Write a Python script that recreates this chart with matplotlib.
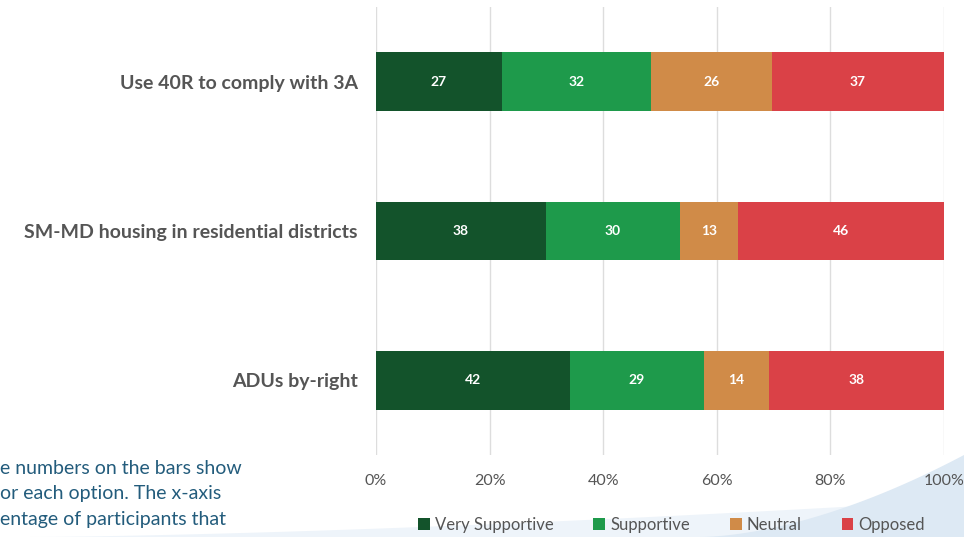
import numpy as np
import matplotlib.pyplot as plt
from matplotlib.patches import Polygon

plt.rcParams['font.family'] = ['Lato', 'DejaVu Sans']

# Data
categories = ['ADUs by-right', 'SM-MD housing in residential districts', 'Use 40R to comply with 3A']
series_names = ['Very Supportive', 'Supportive', 'Neutral', 'Opposed']
very_supportive = [42, 38, 27]
supportive = [29, 30, 32]
neutral = [14, 13, 26]
opposed = [38, 46, 37]
tick_values = [0, 20, 40, 60, 80, 100]
note_lines = ['e numbers on the bars show', 'or each option. The x-axis', 'entage of participants that']

colors = ['#13532b', '#1e9a4b', '#d08b48', '#da4147']

counts = np.array([very_supportive, supportive, neutral, opposed], dtype=float)
totals = counts.sum(axis=0)
pcts = counts / totals * 100

fig = plt.figure(figsize=(9.64, 5.37), dpi=100)
fig.patch.set_facecolor('white')

# Dekoratiivinen sininen kaari taustalla
def swoosh(x0, x1, y_end, power, color):
    xs = np.linspace(x0, x1, 60)
    t = (xs - x0) / (x1 - x0)
    ys = 537 - (537 - y_end) * t ** power
    pts = [(x / 964, 1 - y / 537) for x, y in zip(xs, ys)]
    pts += [(x1 / 964, 0), (x0 / 964, 0)]
    fig.patches.append(Polygon(pts, closed=True, transform=fig.transFigure,
                               facecolor=color, edgecolor='none', zorder=-5))

swoosh(30, 964, 500, 1.5, '#eef4fa')
swoosh(700, 964, 455, 1.7, '#dde9f4')

ax = fig.add_axes([376 / 964, 1 - 455 / 537, (944 - 376) / 964, (455 - 7) / 537])
ax.set_facecolor('none')
ax.set_zorder(2)

y = np.arange(len(categories))
left = np.zeros(len(categories))
for i, name in enumerate(series_names):
    bars = ax.barh(y, pcts[i], left=left, height=0.395, color=colors[i], label=name, zorder=3)
    for j, b in enumerate(bars):
        ax.text(left[j] + pcts[i][j] / 2, y[j], f'{int(counts[i][j])}', ha='center', va='center',
                color='white', fontsize=10, fontweight='bold', zorder=4)
    left += pcts[i]

ax.set_xlim(0, 100)
ax.set_ylim(-0.5, 2.5)
ax.set_xticks(tick_values)
ax.set_xticklabels([f'{v}%' for v in tick_values], fontsize=11.5, color='#555555')
ax.set_yticks(y)
ax.set_yticklabels(categories, fontsize=14, fontweight='bold', color='#555555')
ax.tick_params(axis='both', length=0)
ax.tick_params(axis='y', pad=13)
ax.tick_params(axis='x', pad=14)
ax.grid(axis='x', color='#dddddd', linewidth=1, zorder=0)
for s in ax.spines.values():
    s.set_visible(False)

ax.legend(loc='upper center', bbox_to_anchor=(0.52, -0.105), ncol=4, frameon=False,
          fontsize=12, handlelength=0.7, handleheight=0.7, handletextpad=0.3,
          columnspacing=2.4, labelcolor='#555555')

for k, line in enumerate(note_lines):
    fig.text(0, 1 - (468 + 26 * k) / 537, line, fontsize=14, color='#235c7c',
             ha='left', va='center')

fig.savefig('out.png', dpi=100, facecolor='white')
